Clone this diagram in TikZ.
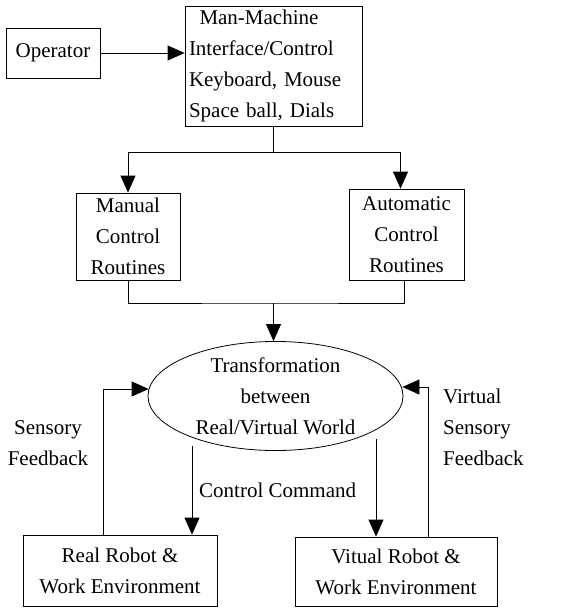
\documentclass[tikz,border=0pt]{standalone}
\usepackage{fontspec}
\setmainfont{Liberation Serif}
\usetikzlibrary{arrows.meta,shapes.geometric}
\begin{document}
\begin{tikzpicture}[x=1pt,y=-1pt,
  font=\fontsize{21}{31}\selectfont,
  box/.style={draw,line width=0.8pt,rectangle,inner sep=0pt,align=center},
  lbl/.style={inner sep=0pt},
  conn/.style={line width=0.8pt},
  arr/.style={conn,-{Triangle[length=17pt,width=15pt]}}]
\useasboundingbox (0,0) rectangle (587,608);
% nodes
\node[box,minimum width=94pt,minimum height=50pt] (op) at (53,53) {Operator};
\node[box,minimum height=120pt,align=left,text width=169pt,inner xsep=4pt] (mmi) at (273.5,66)
  {\hspace{0.5em}Man-Machine\\Interface/Control\\Keyboard, Mouse\\Space ball, Dials};
\node[box,minimum width=104pt,minimum height=87pt] (man) at (128,236.5) {Manual\\Control\\Routines};
\node[box,minimum width=115pt,minimum height=91pt] (auto) at (406.5,234.5) {Automatic\\Control\\Routines};
\node[draw,line width=0.8pt,ellipse,inner sep=0pt,minimum width=255pt,minimum height=106pt,align=center] (ell) at (275.5,396)
  {Transformation\\between\\Real/Virtual World};
\node[box,minimum width=194pt,minimum height=71pt] (real) at (120,570.5) {Real Robot \&\\Work Environment};
\node[box,minimum width=202pt,minimum height=69pt] (virt) at (396,571.5) {Vitual Robot \&\\Work Environment};
% labels
\node[lbl,align=center] (sf) at (48,443) {Sensory\\Feedback};
\node[lbl,anchor=west] (cc) at (199,490) {Control Command};
\node[lbl,align=left,anchor=west] (vsf) at (443,427) {Virtual\\Sensory\\Feedback};
% coordinates
\coordinate (br) at (273.5,152);
\coordinate (mg) at (273.5,303);
\coordinate (c1) at (192,446);
\coordinate (c2) at (376,439);
% connectors
\draw[arr] (op.east) -- (op.east -| mmi.west);
\draw[conn] (mmi.south) -- (br);
\draw[arr] (br) -| (man.north);
\draw[arr] (br) -| ([xshift=-6pt]auto.north);
\draw[conn] (man.south) |- (mg) -| ([xshift=-2.5pt]auto.south);
\draw[arr] (mg) -- (mg |- ell.north);
\draw[arr] ([xshift=-17pt]real.north) |- ([yshift=7pt,xshift=1pt]ell.west);
\draw[arr] ([xshift=32pt]virt.north) |- ([yshift=9pt,xshift=-1pt]ell.east);
\draw[arr] (c1) -- (c1 |- real.north);
\draw[arr] (c2) -- (c2 |- virt.north);
\end{tikzpicture}
\end{document}
